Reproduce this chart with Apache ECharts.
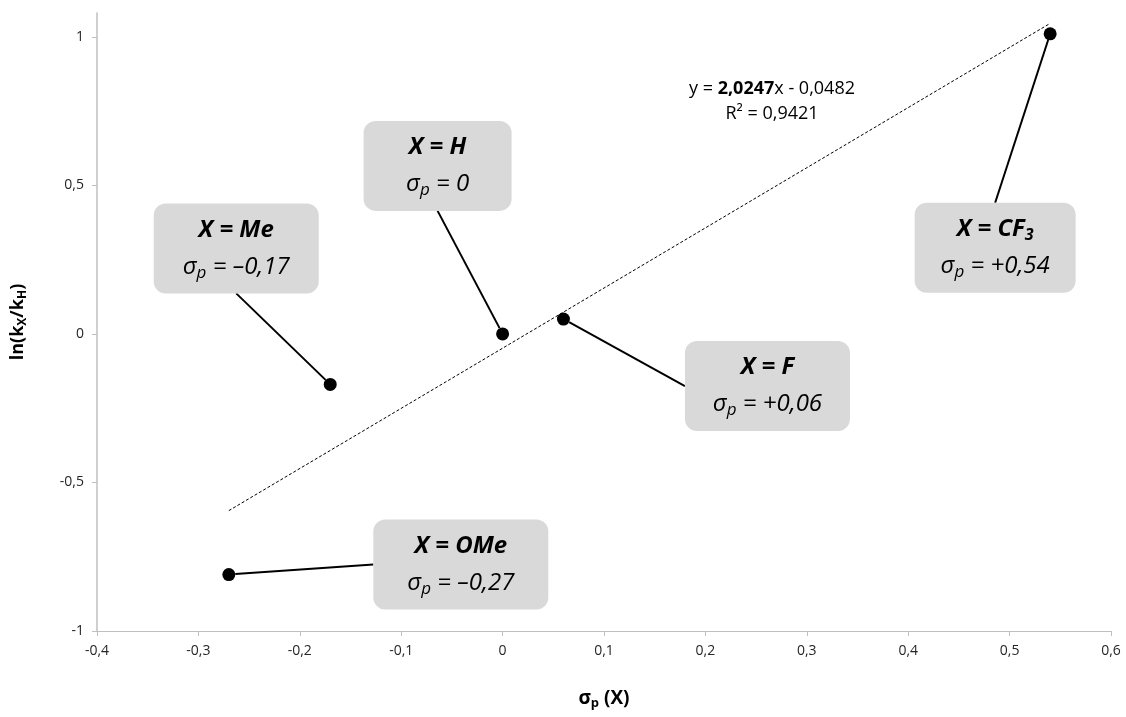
<!DOCTYPE html>
<html>
<head>
<meta charset="utf-8">
<script src="https://cdn.jsdelivr.net/npm/echarts@6/dist/echarts.min.js"></script>
<style>
html,body{margin:0;padding:0;background:#fff;}
#chart{width:1126px;height:717px;}
</style>
</head>
<body>
<div id="chart"></div>
<script>
// ---- data ----
const substituents = ['Me', 'H', 'CF3', 'F', 'OMe'];
const sigmaP = [-0.17, 0, 0.54, 0.06, -0.27];
const lnRatio = [-0.17, 0, 1.01, 0.05, -0.81];
const sigmaLabels = ['\u20130,17', '0', '+0,54', '+0,06', '\u20130,27'];
const xTicks = [-0.4, -0.3, -0.2, -0.1, 0, 0.1, 0.2, 0.3, 0.4, 0.5, 0.6];
const yTicks = [-1, -0.5, 0, 0.5, 1];
const trendSlope = 2.0247;
const trendIntercept = -0.0482;
const trendR2 = 0.9421;

// ---- presentation ----
const FONT = '"Open Sans", "Liberation Sans", sans-serif';
const callout = {
  Me:  {dx: -94,  dy: -136, w: 165},
  H:   {dx: -65,  dy: -168, w: 148},
  CF3: {dx: -55,  dy: 214,  w: 161},
  F:   {dx: 204,  dy: 67,   w: 165},
  OMe: {dx: 232,  dy: -10,  w: 175}
};
const fmt = v => String(Number(v.toFixed(3))).replace('.', ',');
const fmtFull = v => String(v).replace('.', ',');

function titleText(name) {
  if (name === 'CF3') return '{b|X = CF}{bsub|3}';
  return '{b|X = ' + name + '}';
}

const scatterData = substituents.map((s, i) => ({
  value: [sigmaP[i], lnRatio[i]],
  name: s,
  label: {
    width: callout[s].w - 20,
    formatter: titleText(s) + '\n{i|\u03c3}{sub|p}{i| = ' + sigmaLabels[i] + '}'
  }
}));

const xMinT = Math.min(...sigmaP), xMaxT = Math.max(...sigmaP);
const trendData = [[xMinT, trendSlope * xMinT + trendIntercept], [xMaxT, trendSlope * xMaxT + trendIntercept]];

const rich = {
  b: {fontFamily: FONT, fontSize: 24, fontWeight: 'bold', fontStyle: 'italic', color: '#000', lineHeight: 37},
  bsub: {fontFamily: FONT, fontSize: 16, fontWeight: 'bold', fontStyle: 'italic', color: '#000', lineHeight: 37, padding: [12, 0, 0, 0]},
  i: {fontFamily: FONT, fontSize: 24, fontStyle: 'italic', color: '#000', lineHeight: 37},
  sub: {fontFamily: FONT, fontSize: 17, fontStyle: 'italic', color: '#000', lineHeight: 37, padding: [12, 0, 0, 0]}
};

const chart = echarts.init(document.getElementById('chart'), null, {renderer: 'canvas'});
chart.setOption({
  animation: false,
  backgroundColor: '#fff',
  textStyle: {fontFamily: FONT},
  grid: {left: 97, right: 15, top: 13, bottom: 86, containLabel: false},
  xAxis: {
    type: 'value', min: xTicks[0], max: xTicks[xTicks.length - 1], interval: 0.1,
    splitLine: {show: false},
    axisLine: {show: true, onZero: false, lineStyle: {color: '#bfbfbf', width: 1}},
    axisTick: {show: true, length: 5, lineStyle: {color: '#bfbfbf'}},
    axisLabel: {fontFamily: FONT, fontSize: 14, color: '#262626', margin: 13, formatter: fmt},
    name: '{s|\u03c3}{sub|p}{s| (X)}',
    nameLocation: 'middle', nameGap: 56,
    nameTextStyle: {
      rich: {
        s: {fontFamily: FONT, fontSize: 19, fontWeight: 'bold', color: '#000'},
        sub: {fontFamily: FONT, fontSize: 13, fontWeight: 'bold', color: '#000', padding: [10, 0, 0, 0]}
      }
    }
  },
  yAxis: {
    type: 'value', min: -1, max: 1.08,
    splitLine: {show: false},
    axisLine: {show: true, onZero: false, lineStyle: {color: '#bfbfbf', width: 1.5}},
    axisTick: {show: true, length: 5, customValues: yTicks, lineStyle: {color: '#bfbfbf'}},
    axisLabel: {fontFamily: FONT, fontSize: 14, color: '#262626', margin: 13, customValues: yTicks, formatter: fmt},
    name: '{s|ln(k}{sub|X}{s|/k}{sub|H}{s|)}',
    nameLocation: 'middle', nameGap: 68, nameRotate: 90,
    nameTextStyle: {
      rich: {
        s: {fontFamily: FONT, fontSize: 18, fontWeight: 'bold', color: '#000'},
        sub: {fontFamily: FONT, fontSize: 12, fontWeight: 'bold', color: '#000', padding: [10, 0, 0, 0]}
      }
    }
  },
  series: [
    {
      type: 'line', data: trendData, symbol: 'none', silent: true, z: 1,
      lineStyle: {color: '#000', width: 1, type: [3, 2]}
    },
    {
      type: 'scatter', data: scatterData, symbol: 'circle', symbolSize: 13, z: 3,
      itemStyle: {color: '#000', opacity: 1},
      label: {
        show: true, position: 'inside', align: 'center', verticalAlign: 'middle',
        backgroundColor: '#d9d9d9', borderRadius: 12, padding: [8, 10, 8, 10],
        color: '#000', opacity: 1,
        rich: rich
      },
      labelLine: {show: true, lineStyle: {color: '#000', width: 2, opacity: 1}},
      labelLayout: function (p) {
        const s = substituents[p.dataIndex];
        return {dx: callout[s].dx, dy: callout[s].dy};
      }
    }
  ],
  graphic: [
    {
      type: 'text', x: 772, y: 76,
      style: {
        text: 'y = {bb|' + fmtFull(trendSlope) + '}x - ' + fmtFull(-trendIntercept) + '\nR\u00b2 = ' + fmtFull(trendR2),
        fontFamily: FONT, fontSize: 18, fill: '#000', align: 'center', verticalAlign: 'top', lineHeight: 25,
        rich: {
          bb: {fontFamily: FONT, fontSize: 18, fontWeight: 'bold', fill: '#000', lineHeight: 25}
        }
      }
    }
  ]
});
</script>
</body>
</html>
